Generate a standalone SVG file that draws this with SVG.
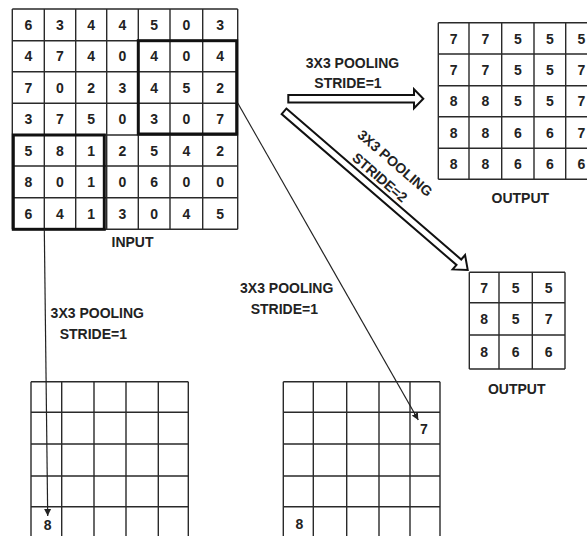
<svg xmlns="http://www.w3.org/2000/svg" width="587" height="536" viewBox="0 0 587 536">
<defs>
<style>
.g{stroke:#2a2a2a;stroke-width:1.4;fill:none}
.b{stroke:#111;stroke-width:3;fill:none}
.n{font-family:"Liberation Sans",Arial,sans-serif;font-weight:bold;font-size:14px;fill:#222;text-anchor:middle}
.t{font-family:"Liberation Sans",Arial,sans-serif;font-weight:bold;font-size:14px;fill:#222;text-anchor:middle}
.ha{stroke:#111;stroke-width:2;fill:#fff;stroke-linejoin:miter}
.ln{stroke:#222;stroke-width:1.2;fill:none}
</style>
<marker id="ah" viewBox="0 0 10 10" refX="10" refY="5" markerWidth="7" markerHeight="8" markerUnits="userSpaceOnUse" orient="auto">
<path d="M0,0 L10,5 L0,10 z" fill="#222"/>
</marker>
</defs>
<rect width="587" height="536" fill="#fff"/>

<g id="input">
<path class="g" d="M12.3,9V229.3M44.3,9V229.3M75.7,9V229.3M106.7,9V229.3M138.3,9V229.3M170,9V229.3M202.7,9V229.3M237.7,9V229.3M12.3,9H237.7M12.3,40.7H237.7M12.3,71.7H237.7M12.3,103.3H237.7M12.3,135H237.7M12.3,166H237.7M12.3,197.7H237.7M12.3,229.3H237.7"/>
<rect class="b" x="138.3" y="40.7" width="98.4" height="93.3"/>
<rect class="b" x="13.3" y="135" width="91" height="94.3"/>
<g class="n">
<text x="28.3" y="30">6</text><text x="60" y="30">3</text><text x="91.2" y="30">4</text><text x="122.5" y="30">4</text><text x="154.2" y="30">5</text><text x="186.3" y="30">0</text><text x="220.2" y="30">3</text>
<text x="28.3" y="61.2">4</text><text x="60" y="61.2">7</text><text x="91.2" y="61.2">4</text><text x="122.5" y="61.2">0</text><text x="154.2" y="61.2">4</text><text x="186.3" y="61.2">0</text><text x="220.2" y="61.2">4</text>
<text x="28.3" y="92.5">7</text><text x="60" y="92.5">0</text><text x="91.2" y="92.5">2</text><text x="122.5" y="92.5">3</text><text x="154.2" y="92.5">4</text><text x="186.3" y="92.5">5</text><text x="220.2" y="92.5">2</text>
<text x="28.3" y="124.2">3</text><text x="60" y="124.2">7</text><text x="91.2" y="124.2">5</text><text x="122.5" y="124.2">0</text><text x="154.2" y="124.2">3</text><text x="186.3" y="124.2">0</text><text x="220.2" y="124.2">7</text>
<text x="28.3" y="155.5">5</text><text x="60" y="155.5">8</text><text x="91.2" y="155.5">1</text><text x="122.5" y="155.5">2</text><text x="154.2" y="155.5">5</text><text x="186.3" y="155.5">4</text><text x="220.2" y="155.5">2</text>
<text x="28.3" y="186.8">8</text><text x="60" y="186.8">0</text><text x="91.2" y="186.8">1</text><text x="122.5" y="186.8">0</text><text x="154.2" y="186.8">6</text><text x="186.3" y="186.8">0</text><text x="220.2" y="186.8">0</text>
<text x="28.3" y="218.5">6</text><text x="60" y="218.5">4</text><text x="91.2" y="218.5">1</text><text x="122.5" y="218.5">3</text><text x="154.2" y="218.5">0</text><text x="186.3" y="218.5">4</text><text x="220.2" y="218.5">5</text>
</g>
<text class="t" x="132.5" y="246.7">INPUT</text>
</g>

<g id="output1">
<path class="g" d="M438.3,22.7V179.3M469,22.7V179.3M501.7,22.7V179.3M534,22.7V179.3M565.7,22.7V179.3M438.3,22.7H597M438.3,54H597M438.3,85.7H597M438.3,116.7H597M438.3,148.3H597M438.3,179.3H597"/>
<g class="n">
<text x="453.7" y="43.5">7</text><text x="485.3" y="43.5">7</text><text x="517.8" y="43.5">5</text><text x="549.8" y="43.5">5</text><text x="581.3" y="43.5">5</text>
<text x="453.7" y="75">7</text><text x="485.3" y="75">7</text><text x="517.8" y="75">5</text><text x="549.8" y="75">5</text><text x="581.3" y="75">7</text>
<text x="453.7" y="106.3">8</text><text x="485.3" y="106.3">8</text><text x="517.8" y="106.3">5</text><text x="549.8" y="106.3">5</text><text x="581.3" y="106.3">7</text>
<text x="453.7" y="137.6">8</text><text x="485.3" y="137.6">8</text><text x="517.8" y="137.6">6</text><text x="549.8" y="137.6">6</text><text x="581.3" y="137.6">7</text>
<text x="453.7" y="168.9">8</text><text x="485.3" y="168.9">8</text><text x="517.8" y="168.9">6</text><text x="549.8" y="168.9">6</text><text x="581.3" y="168.9">6</text>
</g>
<text class="t" x="520.3" y="203">OUTPUT</text>
</g>

<g id="output2">
<path class="g" d="M469.3,272.3V369M499,272.3V369M532.3,272.3V369M565,272.3V369M469.3,272.3H565M469.3,302.7H565M469.3,335H565M469.3,369H565"/>
<g class="n">
<text x="484.2" y="292.5">7</text><text x="515.7" y="292.5">5</text><text x="548.7" y="292.5">5</text>
<text x="484.2" y="323.8">8</text><text x="515.7" y="323.8">5</text><text x="548.7" y="323.8">7</text>
<text x="484.2" y="357">8</text><text x="515.7" y="357">6</text><text x="548.7" y="357">6</text>
</g>
<text class="t" x="516.7" y="394">OUTPUT</text>
</g>

<g id="grid-left">
<path class="g" d="M31,381.7V540M61.7,381.7V540M94,381.7V540M126,381.7V540M158.3,381.7V540M188.3,381.7V540M31,381.7H188.3M31,412.3H188.3M31,444H188.3M31,476H188.3M31,506.7H188.3"/>
<text class="n" x="47.7" y="529.5">8</text>
</g>

<g id="grid-right">
<path class="g" d="M283.3,381.7V540M313.3,381.7V540M346.7,381.7V540M379,381.7V540M410,381.7V540M440,381.7V540M283.3,381.7H440M283.3,412.3H440M283.3,444H440M283.3,476H440M283.3,506.7H440"/>
<text class="n" x="424" y="433.5">7</text>
<text class="n" x="299.3" y="528.5">8</text>
</g>

<g id="connectors">
<polygon class="ha" points="288.3,95 414,95 414,89.3 423.3,98.7 414,108.3 414,102.5 288.3,102.5"/>
<polygon class="ha" transform="translate(284,111.3) rotate(40.8)" points="0,-3.6 231,-3.6 231,-9.5 242.7,0 231,9.5 231,3.6 0,3.6"/>
<line class="ln" x1="44.3" y1="229.3" x2="47.7" y2="516" marker-end="url(#ah)"/>
<line class="ln" x1="237.7" y1="103" x2="418.3" y2="420" marker-end="url(#ah)"/>
</g>

<g id="labels">
<text class="t" x="352.5" y="68.3">3X3 POOLING</text>
<text class="t" x="348" y="88.3">STRIDE=1</text>
<g transform="translate(387.5,170.2) rotate(40.8)">
<text class="t" x="1" y="-5.4">3X3 POOLING</text>
<text class="t" x="-1" y="15.4">STRIDE=2</text>
</g>
<text class="t" x="97.3" y="318">3X3 POOLING</text>
<text class="t" x="93.3" y="339">STRIDE=1</text>
<text class="t" x="286.7" y="293.3">3X3 POOLING</text>
<text class="t" x="284.3" y="314">STRIDE=1</text>
</g>
</svg>
